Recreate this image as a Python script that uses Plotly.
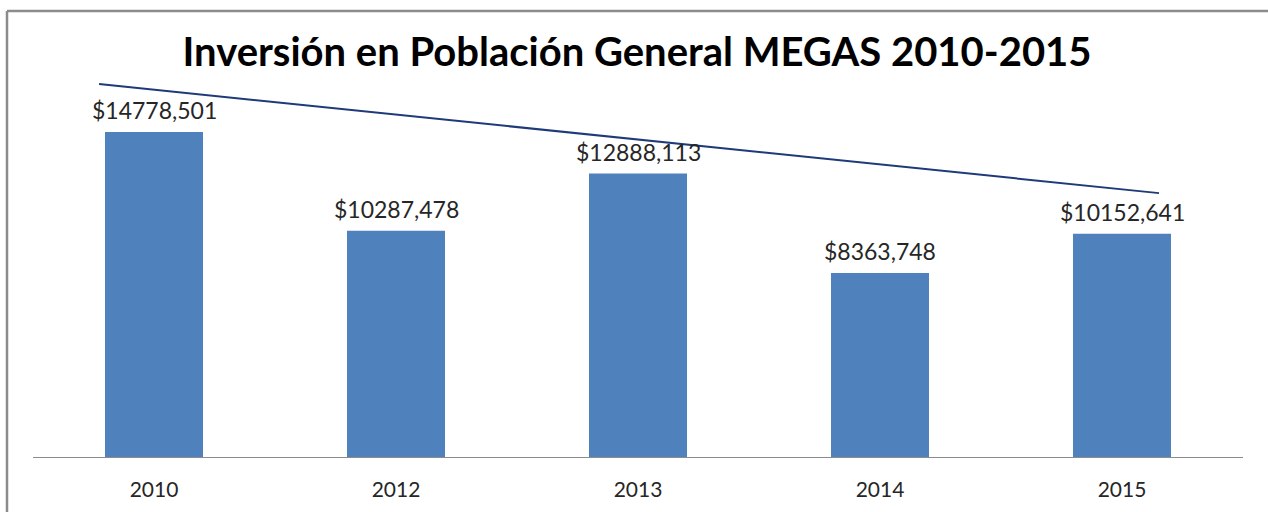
import plotly.graph_objects as go

years = ["2010", "2012", "2013", "2014", "2015"]
values = [14778501, 10287478, 12888113, 8363748, 10152641]
labels = ["$14778,501", "$10287,478", "$12888,113", "$8363,748", "$10152,641"]
# trend line endpoints (category position, value)
trend_x = [-0.227, 4.153]
trend_y = [16960000, 12000000]

idx = list(range(len(years)))

fig = go.Figure()
fig.add_trace(go.Bar(
    x=idx, y=values,
    marker=dict(color="#4F81BD", line=dict(width=0)),
    width=0.405, hoverinfo="skip",
))
fig.add_trace(go.Scatter(
    x=trend_x, y=trend_y, mode="lines",
    line=dict(color="#1F3A78", width=2), cliponaxis=False, hoverinfo="skip",
))

for i, v, t in zip(idx, values, labels):
    fig.add_annotation(x=i, y=v, text=t, showarrow=False, yanchor="middle", yshift=22,
                       font=dict(family="Lato, Open Sans, sans-serif", size=23, color="#262626"))

L, R, T, B = 33, 25, 60, 55
W, H = 1268, 512
pw, ph = W - L - R, H - T - B

bx0 = (7 - L) / pw
bx1 = (W + 20 - L) / pw
by0 = (H - T - H - 20) / ph
by1 = (H - T - 6) / ph
border = dict(color="#8C8C8C", width=2.5)

fig.update_layout(
    width=W, height=H,
    margin=dict(l=L, r=R, t=T, b=B),
    paper_bgcolor="white", plot_bgcolor="white",
    showlegend=False,
    title=dict(text="<b>Inversión en Población General MEGAS 2010-2015</b>",
               x=(637) / W, xanchor="center", y=1 - 52 / H, yanchor="middle",
               font=dict(family="Lato, Open Sans, sans-serif", size=40, color="black")),
    xaxis=dict(range=[-0.5, 4.5], tickvals=idx, ticktext=years,
               showgrid=False, zeroline=False, showline=True,
               linecolor="#8C8C8C", linewidth=1, ticks="outside", ticklen=14,
               tickcolor="rgba(0,0,0,0)",
               tickfont=dict(family="Lato, Open Sans, sans-serif", size=21, color="#262626")),
    yaxis=dict(range=[0, ph / 2.199e-5], visible=False, showgrid=False, zeroline=False),
    shapes=[
        dict(type="line", xref="paper", yref="paper", x0=bx0, x1=bx0, y0=by0, y1=by1,
             line=border, layer="below"),
        dict(type="line", xref="paper", yref="paper", x0=bx0, x1=bx1, y0=by1, y1=by1,
             line=border, layer="below"),
    ],
)

fig.write_html("out.html", config={"displayModeBar": False},
               post_script="document.body.style.margin='0';document.body.style.overflow='hidden';")
